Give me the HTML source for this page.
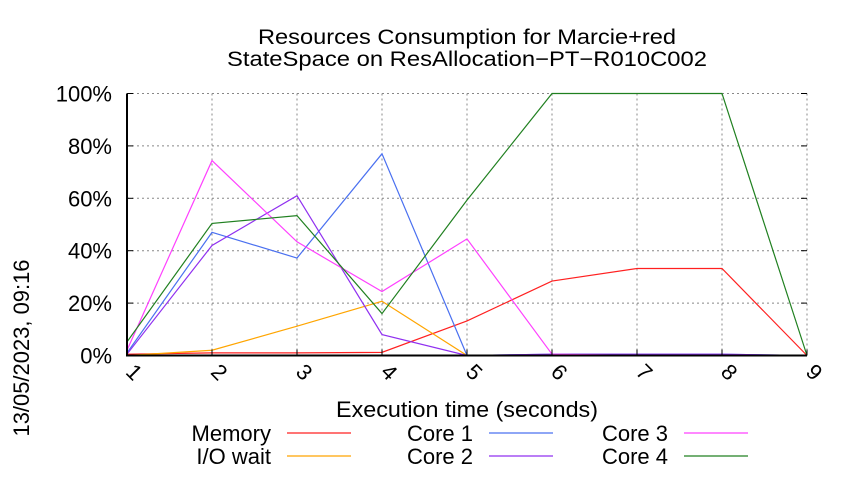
<!DOCTYPE html>
<html><head><meta charset="utf-8"><style>
body{margin:0;background:#fff;}
svg text{font-family:"Liberation Sans",sans-serif;fill:#000;}
</style></head><body>
<svg width="850" height="475" xmlns="http://www.w3.org/2000/svg">
<g id="grid"></g>
<g id="series"></g>
<g id="axes"></g>
<text x="467" y="44" font-size="21" text-anchor="middle" textLength="418" lengthAdjust="spacingAndGlyphs">Resources Consumption for Marcie+red</text>
<text x="467" y="66" font-size="21" text-anchor="middle" textLength="480" lengthAdjust="spacingAndGlyphs">StateSpace on ResAllocation−PT−R010C002</text>
<text x="467" y="417" font-size="22" text-anchor="middle" textLength="262" lengthAdjust="spacingAndGlyphs">Execution time (seconds)</text>
<text transform="translate(29,348) rotate(-90)" font-size="22" text-anchor="middle" textLength="177" lengthAdjust="spacingAndGlyphs">13/05/2023, 09:16</text>
<g id="legend"></g>
</svg>
<script>
const categories=[1,2,3,4,5,6,7,8,9];
const yTicks=[0,20,40,60,80,100];
const seriesNames=["Memory","I/O wait","Core 1","Core 2","Core 3","Core 4"];
const memory=[0.5,1,1,1.2,13.2,28.4,33.2,33.2,0];
const ioWait=[0,2,11.2,20.7,0,0,0,0,0];
const core1=[1,47,37.2,77,0,0.5,0.5,0.5,0];
const core2=[0.5,42,61,8,0,0.5,0.5,0.5,0];
const core3=[2,74.4,43.4,24.4,44.5,0.5,0,0,0];
const core4=[5.2,50.4,53.4,16,59.3,100,100,100,0];
const colors=["#ff2020","#ffa500","#4a70f0","#9030f0","#ff40ff","#208020"];
const allSeries=[memory,ioWait,core1,core2,core3,core4];
const NS="http://www.w3.org/2000/svg";
const X0=127,X1=807,Y0=355.5,Y1=93.5;
const xs=v=>X0+(v-1)*(X1-X0)/8;
const ys=v=>Y0-v*(Y0-Y1)/100;
function mk(t,a,p){const e=document.createElementNS(NS,t);for(const k in a)e.setAttribute(k,a[k]);p.appendChild(e);return e;}
const grid=document.getElementById('grid'),axes=document.getElementById('axes'),ser=document.getElementById('series'),leg=document.getElementById('legend');
yTicks.forEach(t=>{
 const l=mk('line',{x1:X0,x2:X1,y1:ys(t),y2:ys(t),stroke:'#888','stroke-dasharray':'2,3','stroke-width':1},grid);
 
 
 const tx=mk('text',{x:X0-15,y:ys(t)+8,'font-size':22,'text-anchor':'end'},axes);
 tx.textContent=t+'%';
 
 
 const tk=mk('line',{x1:X0,x2:X0+6,y1:ys(t),y2:ys(t),stroke:'#000'},axes);
 
 
 const tk2=mk('line',{x1:X1-6,x2:X1,y1:ys(t),y2:ys(t),stroke:'#000'},axes);
 
 
});
categories.forEach(c=>{
 const l=mk('line',{x1:xs(c),x2:xs(c),y1:Y1,y2:Y0,stroke:'#888','stroke-dasharray':'2,3','stroke-width':1},grid);
 
 
 const tk=mk('line',{x1:xs(c),x2:xs(c),y1:Y0-6,y2:Y0,stroke:'#000'},axes);
 
 
 const tx=mk('text',{transform:`translate(${xs(c)+2},${Y0+22}) rotate(45)`,'font-size':22,'text-anchor':'middle'},axes);
 tx.textContent=c;
 
 
});
const fr=mk('path',{d:`M${X0},${Y1}V${Y0}H${X1}`,fill:'none',stroke:'#000','stroke-width':2},axes);


allSeries.forEach((s,i)=>{
 const p=mk('polyline',{points:s.map((v,j)=>xs(categories[j])+','+ys(v)).join(' '),fill:'none',stroke:colors[i],'stroke-width':1.2},ser);
 
 
});
const lx=[271,473,668],lyy=[441,464];
seriesNames.forEach((n,i)=>{
 const col=Math.floor(i/2),row=i%2;
 const t=mk('text',{x:lx[col],y:lyy[row],'font-size':22,'text-anchor':'end'},leg);
 t.textContent=n;
 
 
 const l=mk('line',{x1:lx[col]+16,x2:lx[col]+80,y1:lyy[row]-8,y2:lyy[row]-8,stroke:colors[i],'stroke-width':1.2},leg);
 
 
});
</script>
</body></html>
